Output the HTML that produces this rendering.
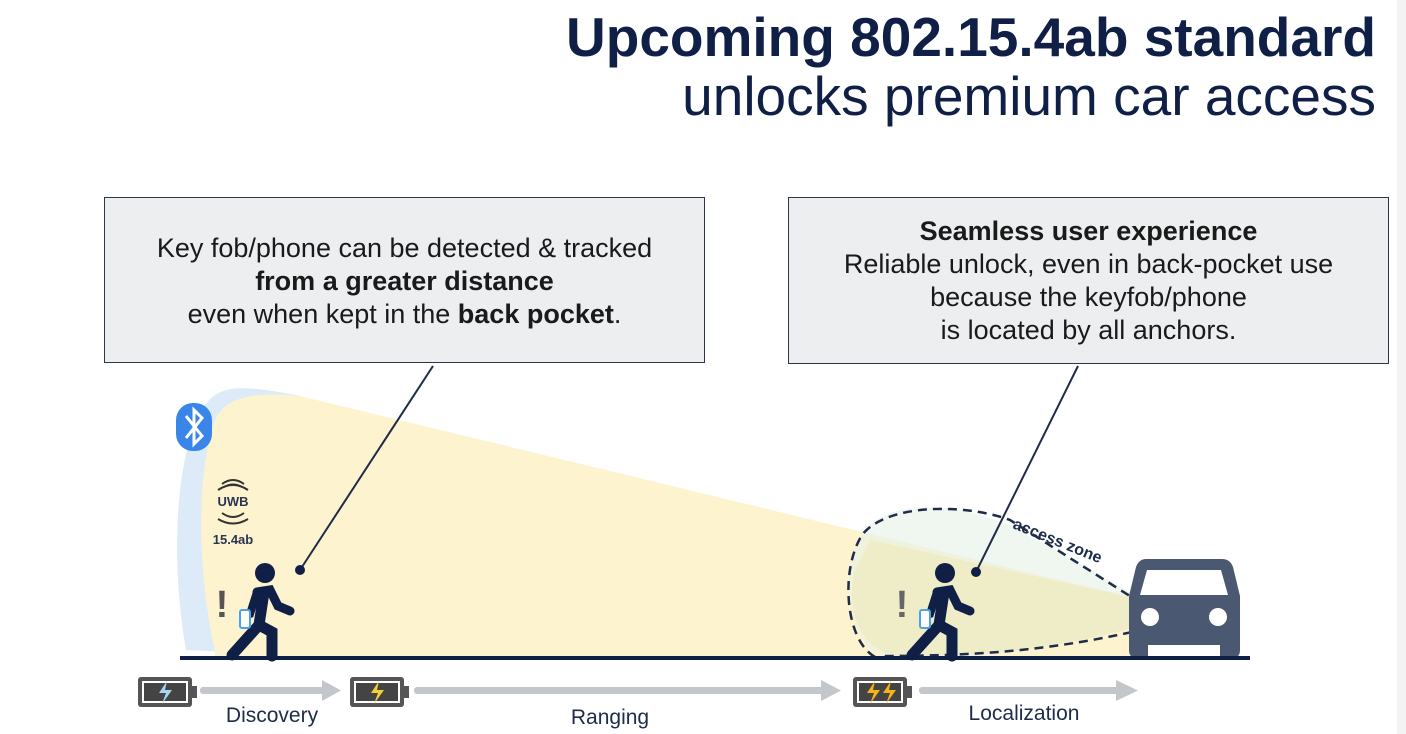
<!DOCTYPE html>
<html><head><meta charset="utf-8"><style>
body{margin:0;width:1406px;height:734px;overflow:hidden;background:#fff;font-family:"Liberation Sans",Arial,sans-serif;position:relative}
.strip{position:absolute;left:1397px;top:0;width:9px;height:734px;background:#f3f3f3}
.t1{position:absolute;right:30px;top:5px;font-size:55px;font-weight:bold;color:#0f1f45;white-space:nowrap}
.t2{position:absolute;right:30px;top:64px;font-size:55px;color:#0f1f45;white-space:nowrap}
.box{position:absolute;background:#eceef0;border:1.5px solid #2a3550;text-align:center;color:#1a1a1a;font-size:27px;line-height:33px;box-sizing:border-box;white-space:nowrap}
</style></head><body>
<div class="strip"></div>
<div class="t1">Upcoming 802.15.4ab standard</div>
<div class="t2">unlocks premium car access</div>
<svg width="1406" height="734" style="position:absolute;left:0;top:0">
<path d="M186,650 C170,560 175,450 205,405 C220,385 240,384 300,396 L300,655 Z" fill="#dcebf7"/>
<path d="M215,652 C195,560 198,470 215,420 C225,395 260,392 300,396 L1135,598 L1135,610 L1130,657 L215,657 Z" fill="#fdf3cf"/>
<path d="M870,650 C840,610 845,550 870,525 C900,498 960,505 1010,525 L1135,595 L1130,628 C1050,650 980,658 900,658 Z" fill="#e6f1e8" opacity="0.6"/>
<path d="M870,540 L1135,598 L1132,628 C1050,650 980,656 900,656 C860,652 845,610 855,570 Z" fill="#eeecc4" opacity="0.85"/>
<path d="M875,657 C845,640 840,570 862,535 C885,505 960,502 1010,520 L1133,598 M1132,632 C1050,650 980,656 880,656" fill="none" stroke="#1e2c4a" stroke-width="2.5" stroke-dasharray="9,6"/>
<text x="1012" y="528" font-size="16" font-weight="bold" fill="#1e2c4a" transform="rotate(22 1012 528)">access zone</text>
<line x1="433" y1="366" x2="300" y2="570" stroke="#1e2c4a" stroke-width="2"/>
<circle cx="300" cy="570" r="5" fill="#0f1f45"/>
<line x1="1078" y1="366" x2="976" y2="572" stroke="#1e2c4a" stroke-width="2"/>
<circle cx="976" cy="572" r="5" fill="#0f1f45"/>
<rect x="176" y="403" width="36" height="48" rx="17" fill="#3a86e8"/>
<path d="M186,416 L202,436 L194,444 L194,410 L202,418 L186,438" fill="none" stroke="#fff" stroke-width="3"/>
<path d="M222,484 Q233,476 244,484 M218,490 Q233,480 248,490 M224,487 Q233,482 242,487" fill="none" stroke="#333" stroke-width="2"/>
<text x="233" y="506" font-size="13" font-weight="bold" fill="#2a3550" text-anchor="middle">UWB</text>
<path d="M222,513 Q233,521 244,513 M218,519 Q233,528 248,519" fill="none" stroke="#333" stroke-width="2"/>
<text x="233" y="544" font-size="13" font-weight="bold" fill="#2a3550" text-anchor="middle">15.4ab</text>
<g fill="#0f1f45" stroke="#0f1f45">
<circle cx="265" cy="573" r="10" stroke="none"/>
<path d="M257,592 L270,590 L278,606 L290,611" fill="none" stroke-width="9" stroke-linecap="round"/>
<path d="M257,592 L250,614 L244,616" fill="none" stroke-width="8" stroke-linecap="round"/>
<path d="M264,592 L259,625 L232,655 M259,625 L272,632 L272,656" fill="none" stroke-width="11" stroke-linecap="round"/>
</g>
<rect x="240" y="610" width="10" height="18" rx="2" fill="#fff" stroke="#4aa3e8" stroke-width="2"/>
<text x="222" y="617" font-size="38" font-weight="bold" fill="#555" text-anchor="middle">!</text>
<g fill="#0f1f45" stroke="#0f1f45">
<circle cx="945" cy="573" r="10" stroke="none"/>
<path d="M937,592 L950,590 L958,606 L970,611" fill="none" stroke-width="9" stroke-linecap="round"/>
<path d="M937,592 L930,614 L924,616" fill="none" stroke-width="8" stroke-linecap="round"/>
<path d="M944,592 L939,625 L912,655 M939,625 L952,632 L952,656" fill="none" stroke-width="11" stroke-linecap="round"/>
</g>
<rect x="920" y="610" width="10" height="18" rx="2" fill="#fff" stroke="#4aa3e8" stroke-width="2"/>
<text x="902" y="617" font-size="38" font-weight="bold" fill="#666" text-anchor="middle">!</text>
<path d="M1146,559 L1222,559 Q1230,559 1233,567 L1240,596 L1240,650 Q1240,658 1232,658 L1220,658 L1220,645 L1148,645 L1148,658 L1137,658 Q1129,658 1129,650 L1129,596 L1136,567 Q1139,559 1146,559 Z" fill="#4a5872"/>
<path d="M1147,570 L1221,570 L1228,595 L1140,595 Z" fill="#fff"/>
<circle cx="1150" cy="617" r="9" fill="#fff"/><circle cx="1218" cy="617" r="9" fill="#fff"/>
<rect x="180" y="656" width="1070" height="4" fill="#0f1f45"/>
<rect x="138" y="677" width="54" height="30" rx="3" fill="#555"/>
<rect x="142" y="681" width="46" height="22" fill="#fff"/>
<rect x="144" y="683" width="42" height="18" fill="#444"/>
<rect x="192" y="686" width="5" height="12" fill="#555"/>
<path d="M167,681 L159,693 L166,693 L162,704 L172,690 L165,690 Z" fill="#a6d4f2"/>
<rect x="350" y="677" width="54" height="30" rx="3" fill="#555"/><rect x="354" y="681" width="46" height="22" fill="#fff"/><rect x="356" y="683" width="42" height="18" fill="#444"/><rect x="404" y="686" width="5" height="12" fill="#555"/>
<path d="M379,681 L371,693 L378,693 L374,704 L384,690 L377,690 Z" fill="#f4cf3a"/>
<rect x="853" y="677" width="54" height="30" rx="3" fill="#555"/><rect x="857" y="681" width="46" height="22" fill="#fff"/><rect x="859" y="683" width="42" height="18" fill="#444"/><rect x="907" y="686" width="5" height="12" fill="#555"/>
<path d="M875,681 L867,693 L874,693 L870,704 L880,690 L873,690 Z M891,681 L883,693 L890,693 L886,704 L896,690 L889,690 Z" fill="#f4b41a"/>
<g fill="#c3c6ca">
<rect x="200" y="687" width="125" height="7" rx="3"/><path d="M322,680 L341,690.5 L322,701 Z"/>
<rect x="414" y="687" width="410" height="7" rx="3"/><path d="M821,680 L841,690.5 L821,701 Z"/>
<rect x="919" y="687" width="200" height="7" rx="3"/><path d="M1116,680 L1138,690.5 L1116,701 Z"/>
</g>
<g font-size="21" fill="#1e2c4a" text-anchor="middle">
<text x="272" y="722">Discovery</text>
<text x="610" y="724">Ranging</text>
<text x="1024" y="720">Localization</text>
</g>
</svg>
<div class="box" style="left:104px;top:197px;width:601px;height:166px;padding-top:34px">Key fob/phone can be detected &amp; tracked<br><b>from a greater distance</b><br>even when kept in the <b>back pocket</b>.</div>
<div class="box" style="left:788px;top:197px;width:601px;height:167px;padding-top:17px"><b>Seamless user experience</b><br>Reliable unlock, even in back-pocket use<br>because the keyfob/phone<br>is located by all anchors.</div>
</body></html>
